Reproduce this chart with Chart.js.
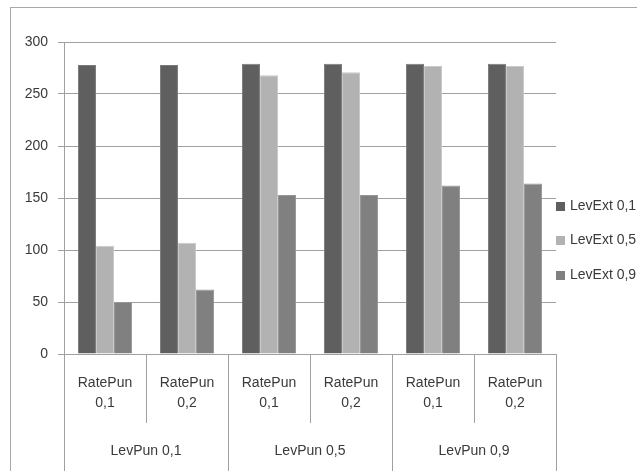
<!DOCTYPE html>
<html>
<head>
<meta charset="utf-8">
<script src="https://cdn.jsdelivr.net/npm/chart.js@4/dist/chart.umd.min.js"></script>
<style>
  html, body { margin: 0; padding: 0; background: #ffffff; }
  #wrap { width: 637px; height: 471px; }
</style>
</head>
<body>
<div id="wrap"><canvas id="c" width="637" height="471"></canvas></div>
<script>
// Categories: RatePun level (inner) grouped under LevPun level (outer)
const rateLabels = [["RatePun", "0,1"], ["RatePun", "0,2"], ["RatePun", "0,1"], ["RatePun", "0,2"], ["RatePun", "0,1"], ["RatePun", "0,2"]];
const levPunGroups = ["LevPun 0,1", "LevPun 0,5", "LevPun 0,9"];
const seriesNames = ["LevExt 0,1", "LevExt 0,5", "LevExt 0,9"];

// Series values
const levExt01 = [278, 278, 279, 279, 279, 279];
const levExt05 = [104, 107, 268, 271, 277, 277];
const levExt09 = [50, 62, 153, 153, 162, 164];

// Value axis
const yMin = 0;
const yMax = 300;
const yStep = 50;

const FONT = "'Liberation Sans', Arial, sans-serif";
const TEXT = "#3a3a3a";
const LINE = "#a0a0a0";

const fills = ["#5f5f5f", "#b2b2b2", "#808080"];
const edges = ["#7a7a7a", "#c9c9c9", "#969696"];

// Outer frame, two-level category axis and legend
const decorations = {
  id: "decorations",
  beforeDraw(chart) {
    const ctx = chart.ctx;
    ctx.save();
    ctx.fillStyle = "#ffffff";
    ctx.fillRect(0, 0, chart.width, chart.height);
    ctx.strokeStyle = "#a8a8a8";
    ctx.lineWidth = 1;
    ctx.strokeRect(10.5, 7.5, 1000, 1000);
    ctx.restore();
  },
  afterDraw(chart) {
    const ctx = chart.ctx;
    const xs = chart.scales.x;
    const area = chart.chartArea;
    const half = (xs.getPixelForValue(1) - xs.getPixelForValue(0)) / 2;
    ctx.save();
    ctx.strokeStyle = LINE;
    ctx.lineWidth = 1;
    for (let i = 0; i <= rateLabels.length; i++) {
      const px = Math.round(xs.getPixelForValue(i) - half) + 0.5;
      const bottom = (i % 2 === 0) ? chart.height : area.bottom + 69;
      ctx.beginPath();
      ctx.moveTo(px, area.bottom);
      ctx.lineTo(px, bottom);
      ctx.stroke();
    }
    ctx.fillStyle = TEXT;
    ctx.font = "14px " + FONT;
    ctx.textAlign = "center";
    ctx.textBaseline = "middle";
    levPunGroups.forEach((g, k) => {
      const cx = (xs.getPixelForValue(2 * k) + xs.getPixelForValue(2 * k + 1)) / 2;
      ctx.fillText(g, cx, area.bottom + 97);
    });

    // legend
    ctx.textAlign = "left";
    chart.data.datasets.forEach((ds, k) => {
      const cy = 206 + k * 34.5;
      ctx.fillStyle = ds.backgroundColor;
      ctx.fillRect(area.right, Math.round(cy - 4.5), 9, 9);
      ctx.fillStyle = TEXT;
      ctx.fillText(ds.label, area.right + 14, cy);
    });
    ctx.restore();
  }
};

const datasets = [levExt01, levExt05, levExt09].map((values, k) => ({
  label: seriesNames[k],
  data: values,
  backgroundColor: fills[k],
  borderColor: edges[k],
  borderWidth: 1,
  barPercentage: 1,
  categoryPercentage: 0.66
}));

new Chart(document.getElementById("c"), {
  type: "bar",
  data: { labels: rateLabels, datasets },
  options: {
    responsive: false,
    devicePixelRatio: 1,
    animation: false,
    layout: { padding: { left: 0, top: 42, right: 81, bottom: 0 } },
    plugins: {
      legend: { display: false },
      tooltip: { enabled: false }
    },
    scales: {
      x: {
        grid: { display: false, drawTicks: false },
        border: { display: false },
        ticks: {
          color: TEXT,
          font: { family: FONT, size: 14, lineHeight: 1.43 },
          padding: 19,
          maxRotation: 0,
          autoSkip: false
        },
        afterFit(s) { s.height = 117; }
      },
      y: {
        min: yMin,
        max: yMax,
        grid: { color: LINE, lineWidth: 1, tickLength: 6, tickColor: LINE },
        border: { display: true, color: LINE },
        ticks: {
          stepSize: yStep,
          color: TEXT,
          font: { family: FONT, size: 14 },
          padding: 10
        },
        afterFit(s) { s.width = 64; }
      }
    }
  },
  plugins: [decorations]
});
</script>
</body>
</html>
